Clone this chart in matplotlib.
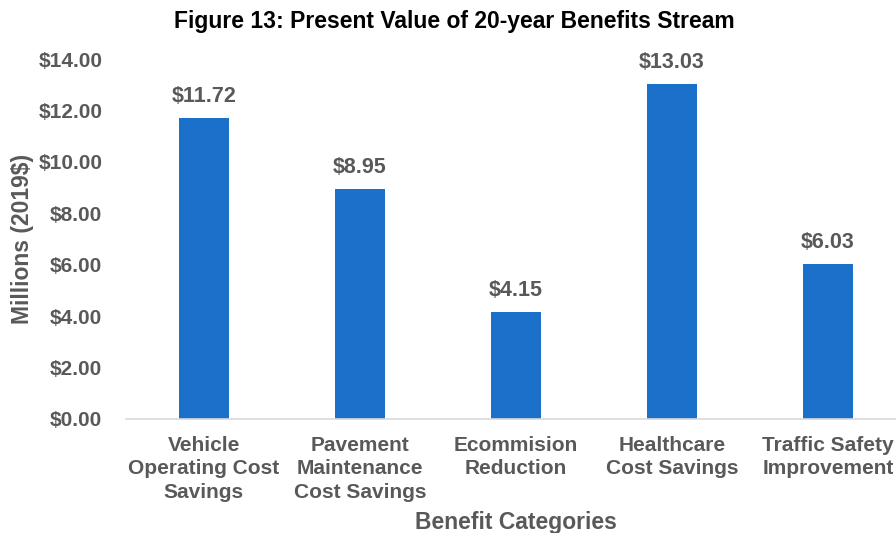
import matplotlib
matplotlib.use("Agg")
import matplotlib.pyplot as plt
from matplotlib.ticker import FuncFormatter

plt.rcParams['font.family'] = ['Liberation Sans', 'DejaVu Sans']

categories = [
    "Vehicle\nOperating Cost\nSavings",
    "Pavement\nMaintenance\nCost Savings",
    "Ecommision\nReduction",
    "Healthcare\nCost Savings",
    "Traffic Safety\nImprovement",
]
values = [11.72, 8.95, 4.15, 13.03, 6.03]
yticks = [0, 2, 4, 6, 8, 10, 12, 14]

BAR = "#1B71C9"
GREY = "#595959"

fig = plt.figure(figsize=(8.96, 5.33), dpi=100)
ax = fig.add_axes([0.1406, 0.2139, 0.8705, 0.6754])

x = list(range(len(categories)))
bars = ax.bar(x, values, width=0.32, color=BAR)

ax.set_xlim(-0.5, len(categories) - 0.5)
ax.set_ylim(0, 14)
ax.set_yticks(yticks)
ax.yaxis.set_major_formatter(FuncFormatter(lambda v, p: f"${v:,.2f}"))
ax.set_xticks(x)
ax.set_xticklabels(categories, linespacing=1.3)

for lab in ax.get_xticklabels() + ax.get_yticklabels():
    lab.set_fontweight("bold")
    lab.set_color(GREY)
    lab.set_fontsize(15)
ax.tick_params(axis="both", length=0)
ax.tick_params(axis="x", pad=12)
ax.tick_params(axis="y", pad=17)

for side in ("top", "right", "left"):
    ax.spines[side].set_visible(False)
ax.spines["bottom"].set_color("#D9D9D9")
ax.spines["bottom"].set_linewidth(1.2)

for b, v in zip(bars, values):
    ax.annotate(f"${v:.2f}", (b.get_x() + b.get_width() / 2, v),
                xytext=(0, 8), textcoords="offset points",
                ha="center", va="bottom", fontsize=15.5,
                fontweight="bold", color=GREY)

ax.set_ylabel("Millions (2019$)", fontsize=16.5, fontweight="bold",
              color=GREY, labelpad=3)
ax.set_xlabel("Benefit Categories", fontsize=16.5, fontweight="bold",
              color=GREY, labelpad=7)

fig.suptitle("Figure 13: Present Value of 20-year Benefits Stream",
             x=0.507, y=0.982, fontsize=16.5, fontweight="bold", color="black")

fig.savefig("out.png", dpi=100)
